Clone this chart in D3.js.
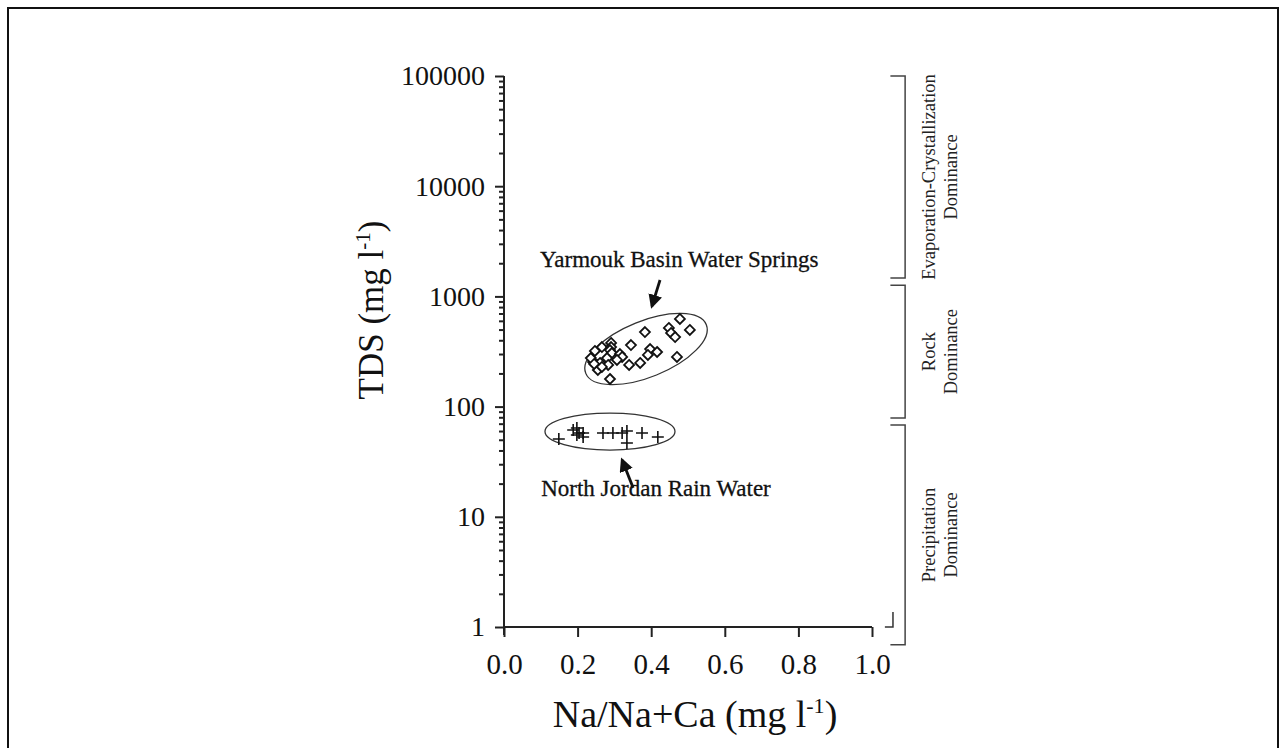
<!DOCTYPE html>
<html>
<head>
<meta charset="utf-8" />
<title>Gibbs diagram</title>
<style>
html, body {
	margin:0;
	padding:0;
	background:#ffffff;
}
svg {
	font-family: 'Liberation Serif', 'Times New Roman', serif;
	display:block;
}
</style>
</head>
<body>

<script src="https://cdn.jsdelivr.net/npm/d3@7"></script>
<script>

//=======================================
// data
//=======================================

// Yarmouk Basin water springs  [Na/(Na+Ca), TDS]
let springs_x = [0.478,0.505,0.448,0.454,0.465,0.383,0.345,0.397,0.416,0.391,0.470,0.370,0.340,0.288,
                 0.266,0.247,0.291,0.291,0.288,0.293,0.315,0.321,0.307,0.280,0.242,0.253,0.261,0.283,0.255,
                 0.236,0.245,0.266];
let springs_tds = [624,496,517,466,428,475,362,333,313,294,282,249,239,178,
                   347,320,378,347,326,306,300,282,265,276,254,239,249,239,215,
                   276,244,229];

// North Jordan rain water
let rain_x   = [0.149,0.188,0.198,0.204,0.198,0.215,0.215,0.269,0.296,0.321,0.334,0.334,0.375,0.418];
let rain_tds = [50.8,61.3,64.0,57.6,55.2,57.6,53.0,57.6,57.6,57.6,60.0,46.7,57.6,53.0];

// axes
let x_ticks = [0,0.2,0.4,0.6,0.8,1.0];
let y_ticks = [1,10,100,1000,10000,100000];

// dominance zones (TDS ranges)
let zone_labels = [['Evaporation-Crystallization','Dominance'],['Rock','Dominance'],['Precipitation','Dominance']];
let zone_top    = [100000,1260,68];
let zone_bottom = [1470,79,0.69];

// group annotations
let group_labels = ['Yarmouk Basin Water Springs','North Jordan Rain Water'];
let group_label_at = [[0.476,1849],[0.413,15.4]];
let arrow_from = [[0.424,1409],[0.351,18.3]];
let arrow_to   = [[0.402,818],[0.321,32.7]];
let ellipse_at = [[0.386,333],[0.288,59.4]];


//=======================================
// chart
//=======================================

let width = 1286,
		height = 748,
		x = d3.scaleLinear().domain([0,1]).range([504,872]),
		y = d3.scaleLog().domain([1,100000]).range([627,76]);

let minor = [];
y_ticks.slice(0,-1).forEach(t=>{ for (let k=2;k<10;k++) minor.push(t*k); });

d3.select('body')
	.append('svg')
		.attr('width',width)
		.attr('height',height)
		.call(sel=>{

			// frame
			sel.append('rect')
				.attr('x',8).attr('y',8)
				.attr('width',1270).attr('height',760)
				.attr('fill','none')
				.attr('stroke','#111')
				.attr('stroke-width',2);

			sel.append('defs').append('marker')
				.attr('id','head')
				.attr('viewBox','0 0 10 10')
				.attr('refX',8).attr('refY',5)
				.attr('markerWidth',5).attr('markerHeight',5)
				.attr('orient','auto')
				.append('path')
					.attr('d','M0,0 L10,5 L0,10 z')
					.attr('fill','#111');

			//=====================
			// axes
			//=====================
			sel.append('g').attr('class','axes')
				.call(sel=>{

					// y axis line (runs a little below the x axis)
					sel.append('line')
						.attr('x1',x(0)).attr('x2',x(0))
						.attr('y1',y(100000)).attr('y2',y(1)+8)
						.attr('stroke','#222').attr('stroke-width',2);

					sel.append('line')
						.attr('x1',x(0)).attr('x2',x(1))
						.attr('y1',y(1)).attr('y2',y(1))
						.attr('stroke','#222').attr('stroke-width',2);

					sel.append('g')
						.attr('transform','translate('+[x(0),0]+')')
						.call(d3.axisLeft(y).tickValues(minor).tickSize(5).tickFormat(''))
						.call(g=>g.select('.domain').remove());

					sel.append('g')
						.attr('transform','translate('+[x(0),0]+')')
						.call(d3.axisLeft(y).tickValues(y_ticks).tickSize(9).tickPadding(10).tickFormat(d3.format('d')))
						.attr('font-family',null)
						.attr('font-size',28)
						.call(g=>g.select('.domain').remove())
						.call(g=>g.selectAll('text').attr('fill','#111'));

					sel.append('g')
						.attr('transform','translate('+[0,y(1)]+')')
						.call(d3.axisBottom(x).tickValues(x_ticks).tickSize(10).tickPadding(16).tickFormat(d3.format('.1f')))
						.attr('font-family',null)
						.attr('font-size',29)
						.call(g=>g.select('.domain').remove())
						.call(g=>g.selectAll('text').attr('fill','#111'));

					sel.selectAll('.tick line').attr('stroke','#222').attr('stroke-width',2);

					// small corner at the end of the x axis
					sel.append('path')
						.attr('d','M'+[x(1.035),y(1)]+'H'+x(1.057)+'V'+(y(1)-15))
						.attr('fill','none')
						.attr('stroke','#333').attr('stroke-width',1.5);

					// axis titles
					sel.append('text')
						.attr('transform','translate('+[383,310]+') rotate(-90)')
						.attr('text-anchor','middle')
						.attr('font-size',35)
						.attr('fill','#111')
						.call(t=>{
							t.append('tspan').text('TDS (mg l');
							t.append('tspan').attr('font-size',21).attr('dy',-13).text('-1');
							t.append('tspan').attr('dy',13).text(')');
						});

					sel.append('text')
						.attr('transform','translate('+[695,727]+')')
						.attr('text-anchor','middle')
						.attr('font-size',38)
						.attr('fill','#111')
						.call(t=>{
							t.append('tspan').text('Na/Na+Ca (mg l');
							t.append('tspan').attr('font-size',22).attr('dy',-14).text('-1');
							t.append('tspan').attr('dy',14).text(')');
						});

				});

			//=====================
			// dominance brackets
			//=====================
			sel.append('g').attr('class','zones')
				.selectAll('g').data(zone_labels)
					.join('g')
						.call(sel=>{

							sel.append('path')
								.attr('d',(d,i)=>'M'+[x(1.05),y(zone_top[i])]+'H'+x(1.09)+'V'+y(zone_bottom[i])+'H'+x(1.05))
								.attr('fill','none')
								.attr('stroke','#444')
								.attr('stroke-width',1.5);

							sel.append('text')
								.attr('transform',(d,i)=>'translate('+[x(1.172),(y(zone_top[i])+y(zone_bottom[i]))/2]+') rotate(-90)')
								.attr('text-anchor','middle')
								.attr('font-size',18.5)
								.attr('fill','#222')
								.selectAll('tspan').data(d=>d)
									.join('tspan')
										.attr('x',0)
										.attr('dy',(d,i)=>i ? 22 : 0)
										.text(d=>d);

						});

			//=====================
			// ellipses
			//=====================
			let ell = [{rx:65,ry:28,rot:-22},{rx:65,ry:18.5,rot:0}];

			sel.append('g').attr('class','ellipses')
				.selectAll('ellipse').data(ellipse_at)
					.join('ellipse')
						.attr('transform',(d,i)=>'translate('+[x(d[0]),y(d[1])]+') rotate('+ell[i].rot+')')
						.attr('rx',(d,i)=>ell[i].rx)
						.attr('ry',(d,i)=>ell[i].ry)
						.attr('fill','none')
						.attr('stroke','#333')
						.attr('stroke-width',1.3);

			//=====================
			// springs (diamonds)
			//=====================
			sel.append('g').attr('class','springs')
				.selectAll('path').data(springs_x)
					.join('path')
						.attr('transform',(d,i)=>'translate('+[x(d),y(springs_tds[i])]+')')
						.attr('d','M0,-5L5,0L0,5L-5,0Z')
						.attr('fill','#fff')
						.attr('stroke','#111')
						.attr('stroke-width',1.8);

			//=====================
			// rain (plus)
			//=====================
			sel.append('g').attr('class','rain')
				.selectAll('path').data(rain_x)
					.join('path')
						.attr('transform',(d,i)=>'translate('+[x(d),y(rain_tds[i])]+')')
						.attr('d','M-6,0H6M0,-6V6')
						.attr('fill','none')
						.attr('stroke','#111')
						.attr('stroke-width',1.6);

			//=====================
			// annotations
			//=====================
			sel.append('g').attr('class','notes')
				.call(sel=>{

					sel.selectAll('text').data(group_labels)
						.join('text')
							.attr('x',(d,i)=>x(group_label_at[i][0]))
							.attr('y',(d,i)=>y(group_label_at[i][1]))
							.attr('text-anchor','middle')
							.attr('font-size',23)
							.attr('fill','#111')
							.attr('stroke','#111')
							.attr('stroke-width',0.3)
							.text(d=>d);

					sel.selectAll('line').data(arrow_from)
						.join('line')
							.attr('x1',d=>x(d[0])).attr('y1',d=>y(d[1]))
							.attr('x2',(d,i)=>x(arrow_to[i][0])).attr('y2',(d,i)=>y(arrow_to[i][1]))
							.attr('stroke','#111')
							.attr('stroke-width',2.8)
							.attr('marker-end','url(#head)');

				});

		});

</script>
</body>
</html>
